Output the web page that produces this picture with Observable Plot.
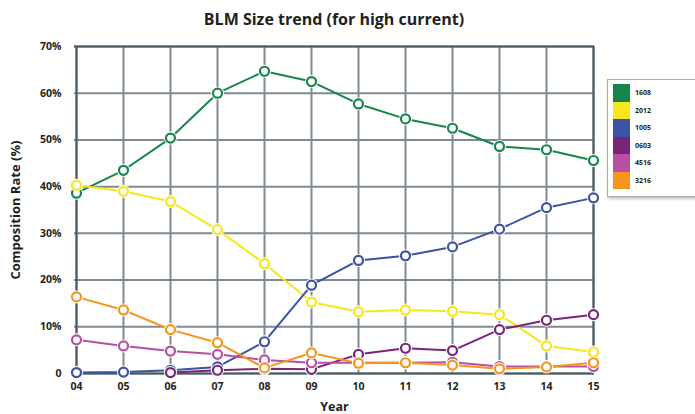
<!DOCTYPE html>
<html>
<head>
<meta charset="utf-8">
<script src="https://cdn.jsdelivr.net/npm/d3@7"></script>
<script src="https://cdn.jsdelivr.net/npm/@observablehq/plot@0.6"></script>
<style>
  body { margin: 0; background: #fff; }
  #wrap { position: relative; width: 695px; height: 414px; overflow: hidden; font-family: 'Open Sans', sans-serif; color: #231f20; }
  #title { position: absolute; left: 74px; top: 11px; width: 520px; text-align: center; font-weight: bold; font-size: 16px; line-height: 16px; white-space: nowrap; }
  #legend { position: absolute; left: 607px; top: 79px; width: 100px; height: 116px; border: 1.5px solid #a4aeb3; background: #fff; box-shadow: 1px 2px 3px rgba(0,0,0,0.25); }
  .item { position: absolute; left: 5px; height: 17.5px; display: flex; align-items: center; }
  .sw { width: 17px; height: 17.5px; margin-right: 5px; }
  .lab { font-size: 7px; font-weight: bold; }
  #chart { position: absolute; left: 0; top: 0; }
</style>
</head>
<body>
<div id="wrap">
  <div id="chart"></div>
  <div id="title">BLM Size trend (for high current)</div>
  <div id="legend"></div>
</div>
<script>
const years = ["04","05","06","07","08","09","10","11","12","13","14","15"];
const series = ["1608","2012","1005","0603","4516","3216"];
const colors = ["#15864a","#f5e71c","#3c52a3","#7a2479","#b84fa2","#f7941e"];
const yTicks = [0,10,20,30,40,50,60,70];

const s1608 = [38.6,43.5,50.4,60.0,64.7,62.5,57.7,54.5,52.5,48.6,47.9,45.6];
const s2012 = [40.3,39.0,36.8,30.8,23.5,15.3,13.2,13.6,13.3,12.6,5.9,4.6];
const s1005 = [0.2,0.3,0.7,1.4,6.8,18.9,24.2,25.2,27.1,30.9,35.5,37.6];
const s0603 = [null,null,0.2,0.7,1.0,0.9,4.1,5.4,4.9,9.4,11.4,12.6];
const s4516 = [7.2,5.9,4.8,4.1,2.9,2.3,2.3,2.3,2.4,1.5,1.5,1.5];
const s3216 = [16.4,13.6,9.4,6.6,1.2,4.4,2.2,2.3,1.8,1.0,1.4,2.3];

const valuesBySeries = [s1608, s2012, s1005, s0603, s4516, s3216];
const rows = [];
series.forEach((s, i) => {
  valuesBySeries[i].forEach((v, j) => {
    if (v != null) rows.push({series: s, year: years[j], value: v});
  });
});

const gridColor = "#7e8a90";
const frameColor = "#4b5a62";

const seriesMarks = series.flatMap((s, i) => {
  const d = rows.filter(r => r.series === s);
  return [
    Plot.line(d, {x: "year", y: "value", stroke: colors[i], strokeWidth: 2}),
    Plot.dot(d, {x: "year", y: "value", r: 6.5, fill: "white"}),
    Plot.dot(d, {x: "year", y: "value", r: 4.5, fill: "white", stroke: colors[i], strokeWidth: 2.2})
  ];
});

const chart = Plot.plot({
  width: 695,
  height: 414,
  marginLeft: 74,
  marginRight: 101,
  marginTop: 46,
  marginBottom: 41,
  style: {fontFamily: "'Open Sans', sans-serif", fontWeight: "bold", fontSize: "10.5px", color: "#231f20", background: "transparent"},
  x: {type: "point", domain: years, padding: 0, tickSize: 0, tickPadding: 9, label: null},
  y: {domain: [0, 70], ticks: yTicks, tickFormat: d => d === 0 ? "0" : d + "%", tickSize: 0, tickPadding: 13, label: null},
  marks: [
    Plot.ruleX(years, {stroke: gridColor, strokeWidth: 2}),
    Plot.ruleY(yTicks, {stroke: gridColor, strokeWidth: 2}),
    Plot.ruleX([years[0], years[years.length - 1]], {stroke: frameColor, strokeWidth: 2}),
    Plot.ruleY([0, 70], {stroke: frameColor, strokeWidth: 2}),
    ...seriesMarks,
    Plot.text(["Composition Rate (%)"], {frameAnchor: "left", textAnchor: "middle", lineAnchor: "middle", rotate: -90, dx: -59, fontSize: 13, fontWeight: "bold", fill: "#231f20"}),
    Plot.text(["Year"], {frameAnchor: "bottom", textAnchor: "middle", lineAnchor: "middle", dy: 33, fontSize: 12.5, fontWeight: "bold", fill: "#231f20"})
  ]
});
document.getElementById("chart").appendChild(chart);

const legend = document.getElementById("legend");
series.forEach((s, i) => {
  const item = document.createElement("div");
  item.className = "item";
  item.style.top = (4 + i * 17.5) + "px";
  item.innerHTML = `<div class="sw" style="background:${colors[i]}"></div><span class="lab">${s}</span>`;
  legend.appendChild(item);
});
</script>
</body>
</html>
